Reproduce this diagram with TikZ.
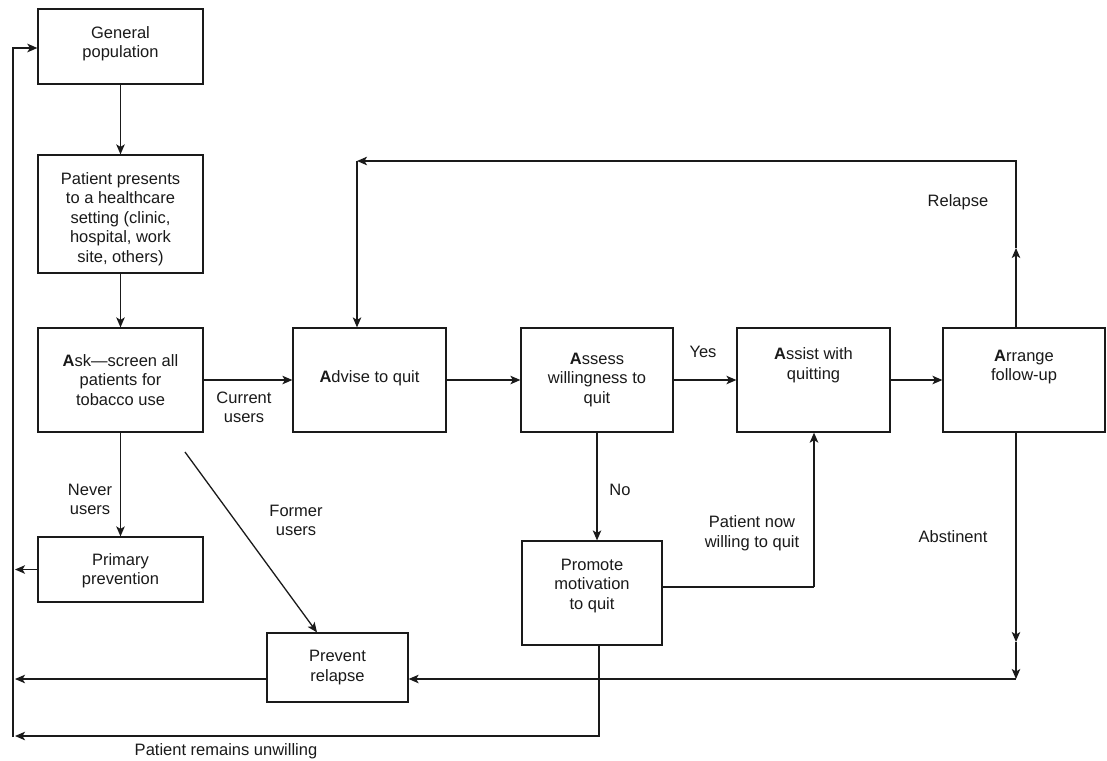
\documentclass[tikz,border=0pt]{standalone}
\usepackage{fontspec}
\setmainfont{Liberation Sans}
\usetikzlibrary{arrows.meta,calc}
\definecolor{ink}{HTML}{1A1A1A}
\begin{document}
\begin{tikzpicture}[x=1pt,y=-1pt,
  font=\fontsize{16.5}{19.5}\selectfont,
  box/.style={draw=ink, line width=1.2pt, inner sep=0pt, fill=white},
  txt/.style={align=center, inner sep=0pt, text=ink},
  link/.style={draw=ink, line width=1.3pt},
  arr/.style={link, -{Stealth[length=10pt,width=8.5pt,inset=2.5pt]}},
  heavy/.style={line width=2.8pt}]
\useasboundingbox[fill=white] (0,0) rectangle (1107,760);

% --- boxes ---
\node[box, minimum width=165pt, minimum height=75pt,
  label={[txt,yshift=3pt]center:{General\\population}}] (gen) at (120.5,46.5) {};
\node[box, minimum width=165pt, minimum height=118pt,
  label={[txt,yshift=-5pt]center:{Patient presents\\to a healthcare\\setting (clinic,\\hospital, work\\site, others)}}] (pres) at (120.5,214) {};
\node[box, minimum width=165pt, minimum height=104pt,
  label={[txt]center:{\textbf{A}sk---screen all\\patients for\\tobacco use}}] (ask) at (120.5,380) {};
\node[box, minimum width=153pt, minimum height=104pt,
  label={[txt,yshift=2pt]center:{\textbf{A}dvise to quit}}] (advise) at (369.5,380) {};
\node[box, minimum width=152pt, minimum height=104pt,
  label={[txt]center:{\textbf{A}ssess\\willingness to\\quit}}] (assess) at (597,380) {};
\node[box, minimum width=153pt, minimum height=104pt,
  label={[txt,yshift=15pt]center:{\textbf{A}ssist with\\quitting}}] (assist) at (813.5,380) {};
\node[box, minimum width=162pt, minimum height=104pt,
  label={[txt,yshift=13pt]center:{\textbf{A}rrange\\follow-up}}] (arrange) at (1024,380) {};
\node[box, minimum width=165pt, minimum height=65pt,
  label={[txt,yshift=-1pt]center:{Primary\\prevention}}] (primary) at (120.5,569.5) {};
\node[box, minimum width=140pt, minimum height=104pt,
  label={[txt,yshift=7pt]center:{Promote\\motivation\\to quit}}] (promote) at (592,593) {};
\node[box, minimum width=141pt, minimum height=69pt,
  label={[txt]center:{Prevent\\relapse}}] (prevent) at (337.5,667.5) {};

% --- routing points ---
\coordinate (loopTop) at (13,48);
\coordinate (loopBot) at (13,737);
\coordinate (loopX) at (15,0);
\coordinate (relTR) at (1016,161);
\coordinate (relTL) at (357,161);
\coordinate (relMid) at (1016,248);
\coordinate (absBR) at (1016,679);
\coordinate (absMid) at (1016,642);
\coordinate (willC) at (814,587);
\coordinate (unwC) at (599,736);
\coordinate (formerStart) at (185,452);

% --- main sequence ---
\draw[arr] (gen) -- (pres);
\draw[arr] (pres) -- (ask);
\draw[arr] (ask) -- (advise);
\draw[arr] (advise) -- (assess);
\draw[arr] (assess.east) -- (assess.east -| assist.west);
\draw[arr] (assist.east |- assess.east) -- (assess.east -| arrange.west);

% relapse loop back to advice
\draw[arr] (arrange.north -| relTR) -- (relMid);
\draw[arr] (relMid) -- (relTR) -- (relTL);
\draw[arr] (relTL) -- (relTL |- advise.north);

% unwilling patients
\draw[arr] (assess.south) -- (assess.south |- promote.north);
\draw[link] (promote.east |- willC) -- (willC);
\draw[arr, heavy] (willC) -- (willC |- assist.south);

% abstinent patients
\draw[arr] (arrange.south -| absBR) -- (absMid);
\draw[arr] (absMid) -- (absBR);
\draw[arr] (absBR) -- (absBR -| prevent.east);

% screening outcomes
\draw[arr] (ask.south) -- (primary.north);
\draw[arr] (formerStart) -- ($(prevent.north)+(-20.5,0)$);

% returns to the general population
\draw[arr] (primary.west) -- (primary.west -| loopX);
\draw[arr] (prevent.west |- absBR) -- (loopX |- absBR);
\draw[arr] (unwC |- promote.south) -- (unwC) -- (loopX |- unwC);
\draw[arr, heavy] (loopBot) -- (loopTop) -- (loopTop -| gen.west);

% --- connector labels ---
\node[txt] (lCurrent) at (244,407.5) {Current\\users};
\node[txt] (lYes) at (703,352) {Yes};
\node[txt] (lNo) at (620,490) {No};
\node[txt] (lNever) at (90,499.5) {Never\\users};
\node[txt] (lFormer) at (296,520.5) {Former\\users};
\node[txt] (lWilling) at (752,533) {Patient now\\willing to quit};
\node[txt] (lAbst) at (953,537) {Abstinent};
\node[txt] (lRelapse) at (958,202) {Relapse};
\node[txt] (lUnwilling) at (226,751) {Patient remains unwilling};
\end{tikzpicture}
\end{document}
